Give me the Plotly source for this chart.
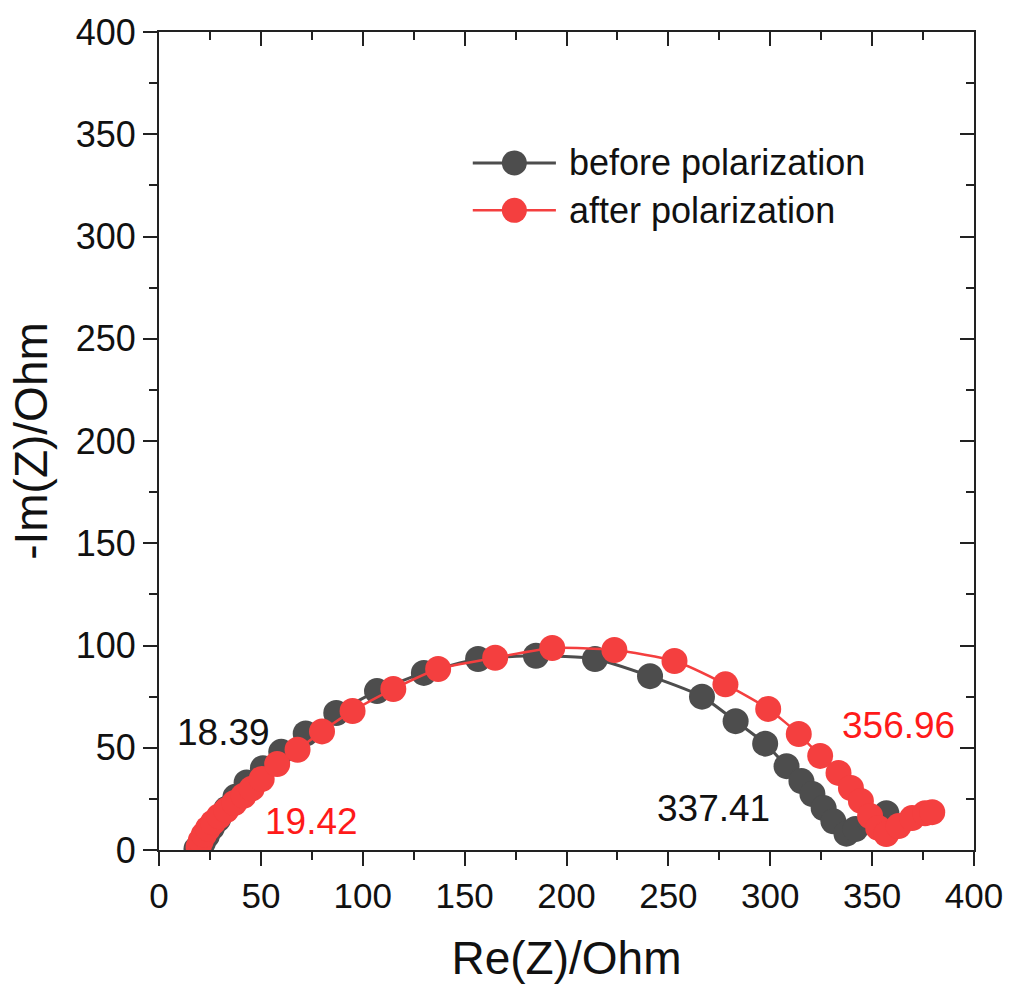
import plotly.graph_objects as go

# Nyquist data: Re(Z) vs -Im(Z), in Ohm
before_re = [18.39, 21.5, 23.5, 26, 29, 33, 37.5, 43, 51, 60, 72, 87, 107, 130,
             156.6, 185, 214, 241, 266.5, 283, 297.5, 308, 315.3, 320.7, 326.2,
             331, 337.41, 341.8, 349, 357]
before_im = [0.5, 3.5, 7, 11, 15, 20, 26, 33, 40, 48, 57, 67, 77.7, 86.6,
             93.4, 95, 93.4, 85, 75, 63, 52, 41, 33.7, 27.4, 20.5,
             14, 8, 10.3, 14, 18]

after_re = [19.42, 20.5, 22, 24, 26.5, 29.5, 33, 37, 41.5, 45.5, 50.4, 58, 68, 80,
            95, 115, 137, 165, 193, 223.5, 253, 278, 299, 314, 324.5, 333.5,
            339.6, 344.5, 349, 353, 356.96, 363, 369.6, 376, 379.5]
after_im = [1.5, 4.5, 7.5, 10.5, 13.5, 16.5, 19.5, 23, 26.5, 30, 34.7, 42, 49, 58,
            68, 78.7, 88.5, 94, 98.8, 97.8, 92.4, 81, 69, 56.7, 46, 37.7,
            30.3, 24, 16.6, 10.8, 7.8, 11.7, 15.6, 18, 18.5]

series_names = ["before polarization", "after polarization"]
dark = "#4d4d4d"
red = "#f43f3f"
FONT = "Liberation Sans, Arial, sans-serif"
MARK = 26

fig = go.Figure()
fig.add_trace(go.Scatter(x=before_re, y=before_im, mode="lines+markers",
                         name=series_names[0],
                         line=dict(color=dark, width=3, shape="spline", smoothing=0.6),
                         marker=dict(size=MARK, color=dark)))
# second series sits on the mirrored (top/right) axes so they carry the inward ticks
fig.add_trace(go.Scatter(x=after_re, y=after_im, mode="lines+markers",
                         name=series_names[1], xaxis="x2", yaxis="y2",
                         line=dict(color=red, width=2.5, shape="spline", smoothing=0.6),
                         marker=dict(size=MARK, color=red)))

axis_common = dict(range=[0, 400], dtick=50, showline=True, linewidth=2, linecolor="#222",
                   showgrid=False, zeroline=False, tickwidth=2, tickcolor="#222")

fig.update_layout(
    width=1015, height=987,
    margin=dict(l=159, r=37, t=30, b=137),
    plot_bgcolor="white", paper_bgcolor="white",
    font=dict(family=FONT, color="#111", size=36),
    showlegend=False,
    xaxis=dict(**axis_common, ticks="outside", ticklen=14,
               minor=dict(dtick=25, ticks="outside", ticklen=8, tickwidth=2, tickcolor="#222"),
               tickfont=dict(size=35),
               title=dict(text="Re(Z)/Ohm", font=dict(size=46), standoff=28)),
    yaxis=dict(**axis_common, ticks="outside", ticklen=14,
               minor=dict(dtick=25, ticks="outside", ticklen=8, tickwidth=2, tickcolor="#222"),
               tickfont=dict(size=36),
               title=dict(text="-Im(Z)/Ohm", font=dict(size=46), standoff=14)),
    xaxis2=dict(**axis_common, overlaying="x", side="top", anchor="y2", ticks="inside", ticklen=14,
                showticklabels=False,
                minor=dict(dtick=25, ticks="inside", ticklen=8, tickwidth=2, tickcolor="#222")),
    yaxis2=dict(**axis_common, overlaying="y", side="right", anchor="x2", ticks="inside", ticklen=14,
                showticklabels=False,
                minor=dict(dtick=25, ticks="inside", ticklen=8, tickwidth=2, tickcolor="#222")),
)

# Legend: line with centred marker, then label
legend_rows = [(0.84, dark, 3), (0.782, red, 2.5)]
for (ypos, col, lw), name in zip(legend_rows, series_names):
    fig.add_shape(type="line", xref="paper", yref="paper", x0=0.385, x1=0.487, y0=ypos, y1=ypos,
                  line=dict(color=col, width=lw))
    fig.add_shape(type="circle", xref="paper", yref="paper", xsizemode="pixel", ysizemode="pixel",
                  xanchor=0.436, yanchor=ypos, x0=-12.5, x1=12.5, y0=-12.5, y1=12.5,
                  fillcolor=col, line=dict(width=0))
    fig.add_annotation(x=0.5, y=ypos, xref="paper", yref="paper", text=name, showarrow=False,
                       xanchor="left", yanchor="middle", font=dict(size=36, color="#111"))

# Intercept labels
labels = [("18.39", 31.5, 57.6, "#111"), ("19.42", 74.7, 13.7, "#ff1a1a"),
          ("337.41", 272, 20.5, "#111"), ("356.96", 362.9, 61, "#ff1a1a")]
for txt, lx, ly, col in labels:
    fig.add_annotation(x=lx, y=ly, text=txt, showarrow=False, xanchor="center", yanchor="middle",
                       font=dict(size=37, color=col))

fig.write_html("out.html")
